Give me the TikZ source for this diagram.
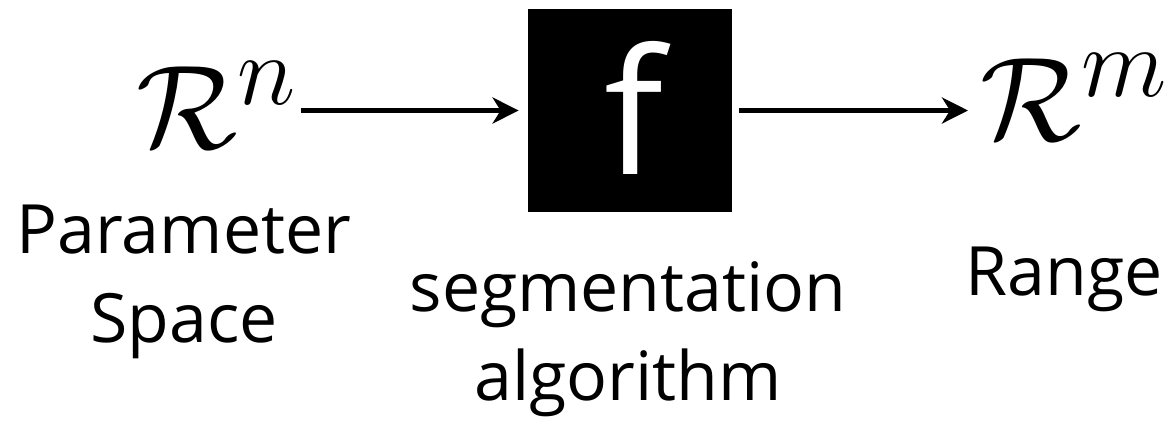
\documentclass[tikz,border=0pt]{standalone}
\usepackage{amsmath,amssymb}
\usepackage{graphicx}
\usepackage{fontspec}
\setmainfont{Open Sans}
\usetikzlibrary{arrows.meta}

\begin{document}
\begin{tikzpicture}[x=0.5pt,y=-0.5pt,
  setname/.style={inner sep=0pt,font=\Huge},
  desc/.style={inner sep=0pt,align=center,font=\fontsize{34}{44.5}\selectfont},
  flow/.style={line width=2.5pt,-{Stealth[length=13pt,width=13pt,inset=4pt]}}]
\useasboundingbox (0,0) rectangle (1168,425);

% black box with the map
\node[fill=black,minimum width=102pt,minimum height=101.5pt,inner sep=0pt] (fbox) at (630,110.5) {};
\node[anchor=base,text=white,inner sep=0pt,font=\fontsize{87}{100}\selectfont] (fname) at (634,174) {f};

% domain and range
\node[setname,anchor=base west] (rn) at (136,148) {\scalebox{2.4}{$\mathcal{R}^n$}};
\node[setname,anchor=base west] (rm) at (980,140) {\scalebox{2.4}{$\mathcal{R}^m$}};

\draw[flow,shorten <=1pt,shorten >=4.5pt] (rn.east |- fbox.west) -- (fbox.west);
\draw[flow,shorten <=3.5pt,shorten >=6pt] (fbox.east) -- (rm.west |- fbox.east);

% labels (base sits on the last line)
\node[desc,anchor=base] (param) at (184,342) {Parameter\\Space};
\node[desc,anchor=base] (algo) at (628,400) {segmentation\\algorithm};
\node[desc,anchor=base] (range) at (1064,295) {Range};
\end{tikzpicture}
\end{document}
